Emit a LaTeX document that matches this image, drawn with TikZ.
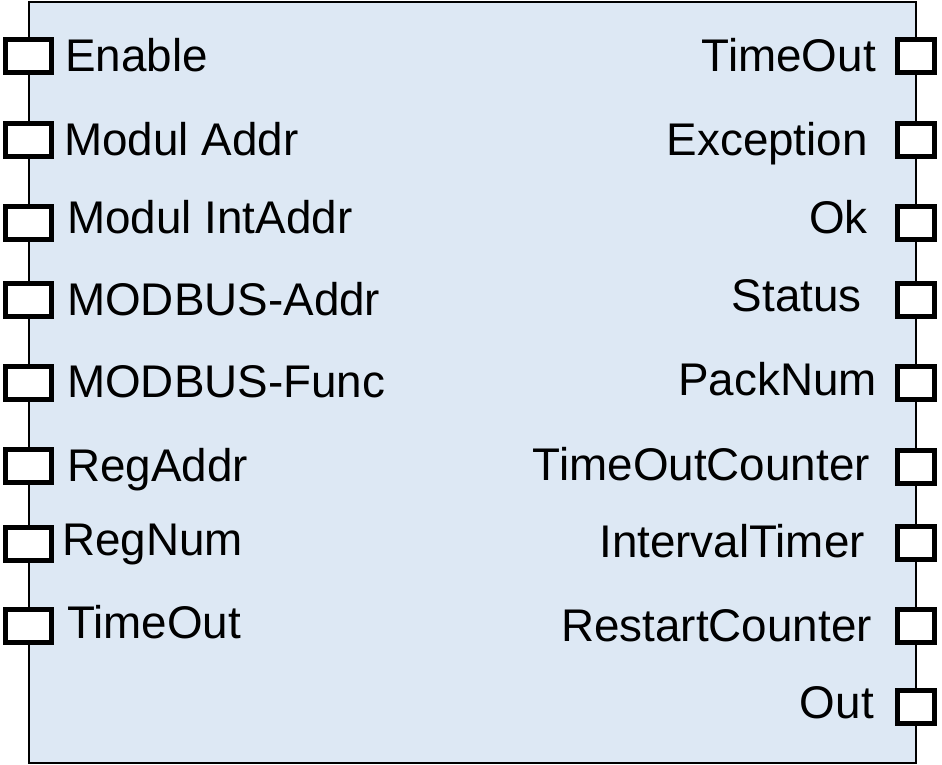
\documentclass[tikz,border=0pt]{standalone}
\usepackage{fontspec}
\setmainfont{Liberation Sans}
\usepackage{tikz}
\usetikzlibrary{positioning}
\definecolor{blockblue}{HTML}{DDE8F4}

\begin{document}
\begin{tikzpicture}[x=1pt,y=-1pt]

\tikzset{block/.style={draw=black,fill=blockblue,line width=2.5pt,minimum width=887pt,minimum height=761pt,inner sep=0pt},
inport/.style={draw=black,fill=white,line width=4.8pt,minimum width=46.5pt,minimum height=32.5pt,inner sep=0pt},
outport/.style={inport,minimum width=37.5pt},
pinlabel/.style={font=\fontsize{45.8}{55}\selectfont,inner sep=0pt}}

\useasboundingbox (0,0) rectangle (942,765);

% Block
\node[block] (fblock) at (472.5,382.5) {};

% Inputs
\foreach \n/\y/\tx/\ty/\t in {en/56/65/72/Enable, ma/140/64/155/Modul Addr, mi/223/67/233/Modul IntAddr, mba/300/67/315/MODBUS-Addr, mbf/383/67/397/MODBUS-Func, ra/466/67/481/RegAddr, rn/544/62/555/RegNum, to/626/67/638/TimeOut} {
  \node[inport] (in\n) at (28.5,\y) {};
  \node[pinlabel,anchor=base west] (lin\n) at (\tx,\ty) {\t};
}

% Outputs
\foreach \n/\y/\tx/\ty/\t in {to/56/876/72/TimeOut, exc/140/868/155/Exception, ok/223/868/233/Ok, st/300/862/311/Status, pn/383/877/395/PackNum, toc/467/870/480/TimeOutCounter, it/543/865/557/IntervalTimer, rc/626/872/641/RestartCounter, out/707/874/718/Out} {
  \node[outport] (out\n) at (916,\y) {};
  \node[pinlabel,anchor=base east] (lout\n) at (\tx,\ty) {\t};
}

\end{tikzpicture}
\end{document}
